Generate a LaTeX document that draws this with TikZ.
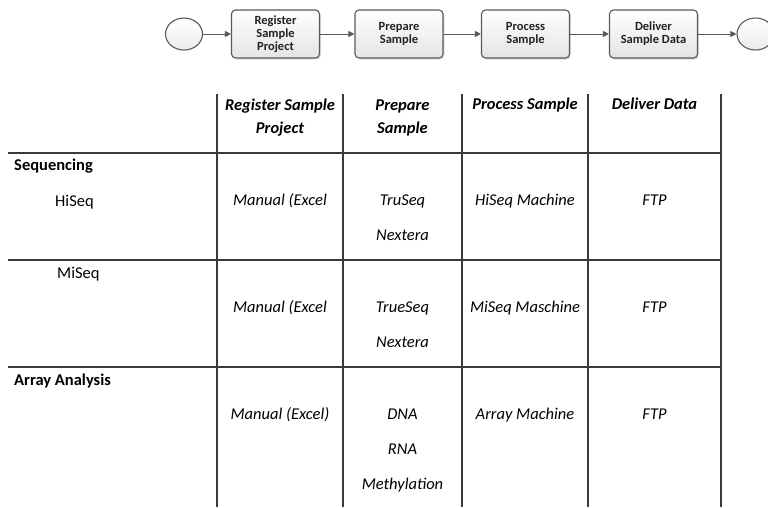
\documentclass[tikz,border=0pt]{standalone}
\usepackage{fontspec}
\setmainfont{Carlito}
\usetikzlibrary{arrows.meta,shadows,shapes.geometric}
\definecolor{boxborder}{HTML}{5A5A5A}
\definecolor{boxfill}{HTML}{E4E4E4}
\definecolor{gridline}{HTML}{3A3A3A}
\definecolor{flowtext}{HTML}{222222}
\begin{document}
\begin{tikzpicture}[x=1pt,y=-1pt,
  flowbox/.style={draw=boxborder, line width=1.1pt, rounded corners=4pt,
    top color=white, bottom color=boxfill,
    minimum width=88pt, minimum height=48pt, inner sep=1pt, align=center,
    font=\fontsize{12.5}{13}\selectfont\bfseries, text=flowtext,
    drop shadow={shadow xshift=1.5pt, shadow yshift=-1.5pt, opacity=0.25}},
  flowevent/.style={ellipse, draw=boxborder, line width=1.1pt,
    top color=white, bottom color=boxfill!70,
    minimum width=37pt, minimum height=32pt, inner sep=0pt},
  flowarrow/.style={draw=boxborder, line width=1pt,
    -{Triangle[length=6pt,width=6pt]}},
  grid/.style={draw=gridline, line width=1.2pt},
  hdr/.style={font=\fontsize{16.5}{23}\selectfont\bfseries\itshape, align=center, inner sep=0pt},
  hdrone/.style={font=\fontsize{16.5}{23}\selectfont\bfseries\itshape, inner sep=0pt,
    text height=0.75em, text depth=0.25em},
  cell/.style={font=\fontsize{16.5}{20}\selectfont\itshape, inner sep=0pt,
    text height=0.75em, text depth=0.25em},
  rowlab/.style={font=\fontsize{16.5}{20}\selectfont\bfseries, anchor=west, inner sep=0pt,
    text height=0.75em, text depth=0.25em},
  sublab/.style={font=\fontsize{16.5}{20}\selectfont, anchor=west, inner sep=0pt,
    text height=0.75em, text depth=0.25em}
]
\useasboundingbox (0,0) rectangle (768,507);
\clip (0,0) rectangle (768,507);
\fill[white] (0,0) rectangle (768,507);

% flow
\node[flowevent] (s) at (184,34) {};
\node[flowbox] (b1) at (275.5,34) {Register\\Sample\\Project};
\node[flowbox] (b2) at (399,34) {Prepare\\Sample};
\node[flowbox] (b3) at (525.5,34) {Process\\Sample};
\node[flowbox] (b4) at (653.5,34) {Deliver\\Sample Data};
\node[flowevent] (e) at (755.5,34) {};
\draw[flowarrow] (s) -- (b1);
\draw[flowarrow] (b1) -- (b2);
\draw[flowarrow] (b2) -- (b3);
\draw[flowarrow] (b3) -- (b4);
\draw[flowarrow] (b4) -- (e);

% table grid
\foreach \xx in {217,343,462,588,721} \draw[grid] (\xx,94) -- (\xx,507);
\foreach \yy in {153,260,367} \draw[grid] (8,\yy) -- (721,\yy);

% headers
\node[hdr] (h1) at (280,118) {Register Sample\\Project};
\node[hdr] (h2) at (402.5,118) {Prepare\\Sample};
\node[hdrone] (h3) at (525,106.5) {Process Sample};
\node[hdrone] (h4) at (654.5,106.5) {Deliver Data};

% row labels
\node[rowlab] (r1) at (14,167.5) {Sequencing};
\node[sublab] (r1a) at (55,204) {HiSeq};
\node[sublab] (r1b) at (57,276) {MiSeq};
\node[rowlab] (r2) at (14,383) {Array Analysis};

% row 1
\node[cell] (c11) at (280,202.5) {Manual (Excel};
\node[cell] (c12) at (402.5,202.5) {TruSeq};
\node[cell] (c12b) at (402.5,237.5) {Nextera};
\node[cell] (c13) at (525,202.5) {HiSeq Machine};
\node[cell] (c14) at (654.5,202.5) {FTP};

% row 2
\node[cell] (c21) at (280,309.5) {Manual (Excel};
\node[cell] (c22) at (402.5,309.5) {TrueSeq};
\node[cell] (c22b) at (402.5,344.5) {Nextera};
\node[cell] (c23) at (525,309.5) {MiSeq Maschine};
\node[cell] (c24) at (654.5,309.5) {FTP};

% row 3
\node[cell] (c31) at (280,416.5) {Manual (Excel)};
\node[cell] (c32) at (402.5,416.5) {DNA};
\node[cell] (c32b) at (402.5,451.5) {RNA};
\node[cell] (c32c) at (402.5,486.5) {Methylation};
\node[cell] (c33) at (525,416.5) {Array Machine};
\node[cell] (c34) at (654.5,416.5) {FTP};
\end{tikzpicture}
\end{document}
